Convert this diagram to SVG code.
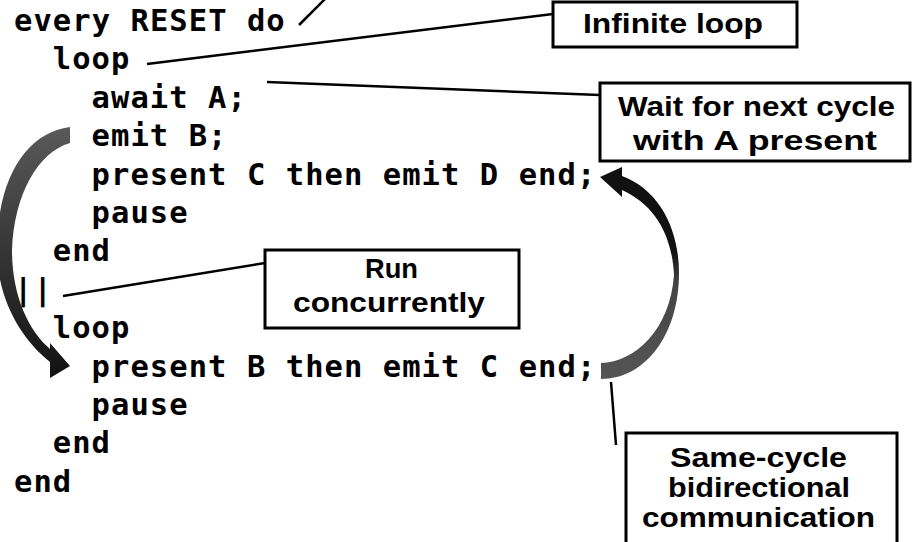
<svg xmlns="http://www.w3.org/2000/svg" width="912" height="542" viewBox="0 0 912 542">
<style>
.code{font-family:"DejaVu Sans Mono","Liberation Mono",monospace;font-weight:bold;font-size:30.5px;letter-spacing:1.05px;fill:#000}
.lbl{font-family:"Liberation Sans",Arial,sans-serif;font-weight:bold;font-size:28px;fill:#000}
.box{fill:#fff;stroke:#000;stroke-width:3}
.conn{stroke:#000;stroke-width:2.5;fill:none}
</style>
<defs>
<linearGradient id="gl" x1="0" y1="0" x2="0" y2="1">
<stop offset="0" stop-color="#5a5a5a"/>
<stop offset="1" stop-color="#111"/>
</linearGradient>
<linearGradient id="gr" x1="0" y1="1" x2="0" y2="0">
<stop offset="0" stop-color="#555"/>
<stop offset="0.45" stop-color="#444"/>
<stop offset="0.6" stop-color="#111"/>
<stop offset="1" stop-color="#111"/>
</linearGradient>
</defs>
<rect width="912" height="542" fill="#fff"/>
<g id="code">
<text class="code" x="14" y="31">every RESET do</text>
<text class="code" x="52.8" y="69.4">loop</text>
<text class="code" x="91.6" y="107.8">await A;</text>
<text class="code" x="91.6" y="146.2">emit B;</text>
<text class="code" x="91.6" y="184.6">present C then emit D end;</text>
<text class="code" x="91.6" y="223">pause</text>
<text class="code" x="52.8" y="261.4">end</text>
<text class="code" x="14" y="299.8">||</text>
<text class="code" x="52.8" y="338.2">loop</text>
<text class="code" x="91.6" y="376.6">present B then emit C end;</text>
<text class="code" x="91.6" y="415">pause</text>
<text class="code" x="52.8" y="453.4">end</text>
<text class="code" x="14" y="491.8">end</text>
</g>
<g id="connectors">
<line class="conn" x1="299" y1="25" x2="325" y2="-1"/>
<line class="conn" x1="147" y1="64" x2="553" y2="14"/>
<line class="conn" x1="267" y1="82" x2="600" y2="95"/>
<line class="conn" x1="63" y1="296" x2="265" y2="263"/>
<line class="conn" x1="611" y1="382" x2="616" y2="445"/>
<path id="arrow-left" fill="url(#gl)" d="M70,127 L70,143 C38,152 14,195 12,250 C12,295 28,330 50,349 L50,343 L70,366 L50,378 L50,362 C22,340 -3,300 -3,250 C-3,180 25,133 70,127 Z"/>
<path id="arrow-right" fill="url(#gr)" d="M601,363 C635,362 670,330 674,275 C672,235 655,205 622,190 L622,197 L600,177 L622,167 L622,176 C660,190 679,230 679,273 C679,335 645,379 601,379 Z"/>
</g>
<g id="infinite-loop">
<rect class="box" x="553" y="2" width="244" height="45"/>
<text class="lbl" x="583" y="33" textLength="180" lengthAdjust="spacingAndGlyphs">Infinite loop</text>
</g>
<g id="wait-next-cycle">
<rect class="box" x="600" y="83" width="310" height="78"/>
<text class="lbl" x="618" y="116" textLength="277" lengthAdjust="spacingAndGlyphs">Wait for next cycle</text>
<text class="lbl" x="633" y="150" textLength="244" lengthAdjust="spacingAndGlyphs">with A present</text>
</g>
<g id="run-concurrently">
<rect class="box" x="265" y="250" width="254" height="78"/>
<text class="lbl" x="365" y="278" textLength="53" lengthAdjust="spacingAndGlyphs">Run</text>
<text class="lbl" x="293" y="312" textLength="192" lengthAdjust="spacingAndGlyphs">concurrently</text>
</g>
<g id="same-cycle">
<path class="box" d="M626,545 L626,433 L897,433 L897,545"/>
<text class="lbl" x="670" y="467" textLength="177" lengthAdjust="spacingAndGlyphs">Same-cycle</text>
<text class="lbl" x="668" y="497" textLength="182" lengthAdjust="spacingAndGlyphs">bidirectional</text>
<text class="lbl" x="642" y="527" textLength="233" lengthAdjust="spacingAndGlyphs">communication</text>
</g>
</svg>
